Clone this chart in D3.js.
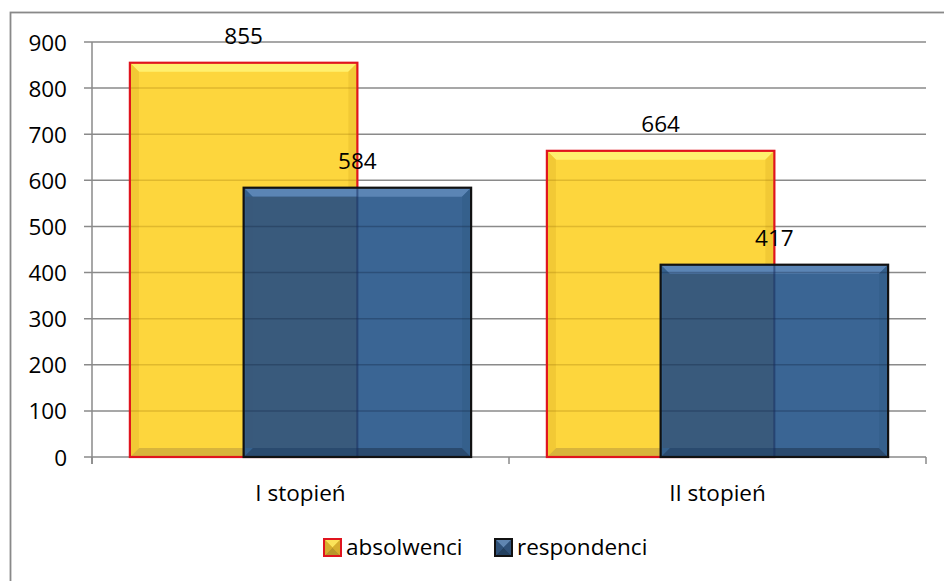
<!DOCTYPE html>
<html><head><meta charset="utf-8">
<script src="https://cdn.jsdelivr.net/npm/d3@7"></script>
<style>body{margin:0;background:#fff}svg{display:block}</style>
</head><body>
<script>
const categories = ["I stopień", "II stopień"];
const seriesNames = ["absolwenci", "respondenci"];
const absolwenci = [855, 664];
const respondenci = [584, 417];
const yTicks = [0, 100, 200, 300, 400, 500, 600, 700, 800, 900];

const W = 944, H = 581;
const svg = d3.select("body").append("svg").attr("width", W).attr("height", H);
const font = "'Open Sans', sans-serif";
const fs = 22.5;

// outer frame
svg.append("rect").attr("x", 10.5).attr("y", 12.5).attr("width", 1000).attr("height", 1000)
  .attr("fill", "#fff").attr("stroke", "#898989").attr("stroke-width", 1.8);

const plotL = 92, plotR = 926, plotT = 42, plotB = 457;
const x = d3.scaleBand().domain(categories).range([plotL, plotR]).padding(0);
const y = d3.scaleLinear().domain([0, 900]).range([plotB, plotT]);

const gapRatio = 0.333, overlap = 0.5;
const barW = x.bandwidth() / (2 - overlap + gapRatio);
const off = gapRatio * barW / 2;

// gridlines
const grid = svg.append("g");
grid.selectAll("line").data(yTicks).join("line")
  .attr("x1", plotL - 8).attr("x2", plotR)
  .attr("y1", d => y(d)).attr("y2", d => y(d))
  .attr("stroke", "#8a8a8a").attr("stroke-width", 1.5);
// y axis line
svg.append("line").attr("x1", plotL).attr("x2", plotL).attr("y1", plotT).attr("y2", plotB + 7)
  .attr("stroke", "#8a8a8a").attr("stroke-width", 1.5);
// x ticks
const xt = [plotL, ...categories.map(c => x(c) + x.bandwidth())];
svg.selectAll(".xt").data(xt).join("line").attr("class", "xt")
  .attr("x1", d => d).attr("x2", d => d).attr("y1", plotB).attr("y2", plotB + 7)
  .attr("stroke", "#8a8a8a").attr("stroke-width", 1.5);

// y tick labels
const yAxis = d3.axisLeft(y).tickValues(yTicks).tickSize(0).tickPadding(0);
const ya = svg.append("g").attr("transform", `translate(${67},0)`).call(yAxis);
ya.select(".domain").remove();
ya.selectAll("text").attr("font-family", font).attr("font-size", fs).attr("fill", "#000").attr("dy", "0.36em");

// x category labels
svg.selectAll(".cat").data(categories).join("text").attr("class", "cat")
  .attr("x", d => x(d) + x.bandwidth() / 2).attr("y", 501)
  .attr("text-anchor", "middle").attr("font-family", font).attr("font-size", fs).text(d => d);

function bevelBar(g, x0, y0, w, h, c) {
  const b = Math.min(9, h / 2);
  g.append("rect").attr("x", x0).attr("y", y0).attr("width", w).attr("height", h).attr("fill", c.main);
  g.append("polygon").attr("points", `${x0},${y0} ${x0 + w},${y0} ${x0 + w - b},${y0 + b} ${x0 + b},${y0 + b}`).attr("fill", c.top);
  g.append("polygon").attr("points", `${x0},${y0 + h} ${x0 + w},${y0 + h} ${x0 + w - b},${y0 + h - b} ${x0 + b},${y0 + h - b}`).attr("fill", c.bot);
  g.append("polygon").attr("points", `${x0},${y0} ${x0 + b},${y0 + b} ${x0 + b},${y0 + h - b} ${x0},${y0 + h}`).attr("fill", c.side);
  g.append("polygon").attr("points", `${x0 + w},${y0} ${x0 + w - b},${y0 + b} ${x0 + w - b},${y0 + h - b} ${x0 + w},${y0 + h}`).attr("fill", c.side);
}
const yellow = { main: "#fdd63d", top: "#fff06e", bot: "#d8b43c", side: "#f2c935", stroke: "#e0141e" };
const blue = { main: "#3a6594", top: "#5b85b5", bot: "#2a4a6e", side: "#35608c", stroke: "#111" };

const bars = svg.append("g");
categories.forEach((c, i) => {
  const yx = x(c) + off, bx = yx + barW * overlap;
  const ya0 = y(absolwenci[i]), yb0 = y(respondenci[i]);
  const gy = bars.append("g");
  bevelBar(gy, yx, ya0, barW, plotB - ya0, yellow);
  gy.append("rect").attr("x", yx).attr("y", ya0).attr("width", barW).attr("height", plotB - ya0)
    .attr("fill", "none").attr("stroke", yellow.stroke).attr("stroke-width", 2.2);
  gy.selectAll("line").data(yTicks.filter(t => y(t) > ya0 + 3 && t > 0)).join("line")
    .attr("x1", yx + 1).attr("x2", yx + barW - 1).attr("y1", t => y(t)).attr("y2", t => y(t))
    .attr("stroke", "rgba(140,100,0,0.25)").attr("stroke-width", 1.5);

  const gb = bars.append("g");
  bevelBar(gb, bx, yb0, barW, plotB - yb0, blue);
  gb.append("rect").attr("x", bx + 2).attr("y", yb0 + 9).attr("width", yx + barW - bx - 2).attr("height", plotB - yb0 - 18)
    .attr("fill", "#3a5878").attr("opacity", 0.85);
  gb.selectAll("line").data(yTicks.filter(t => y(t) > yb0 + 3 && t > 0)).join("line")
    .attr("x1", bx).attr("x2", bx + barW).attr("y1", t => y(t)).attr("y2", t => y(t))
    .attr("stroke", "rgba(20,40,70,0.35)").attr("stroke-width", 1.5);
  gb.append("line").attr("x1", yx + barW).attr("x2", yx + barW).attr("y1", yb0).attr("y2", plotB)
    .attr("stroke", "rgba(20,40,90,0.5)").attr("stroke-width", 2);
  gb.append("rect").attr("x", bx).attr("y", yb0).attr("width", barW).attr("height", plotB - yb0)
    .attr("fill", "none").attr("stroke", blue.stroke).attr("stroke-width", 2.2);

  svg.append("text").attr("x", yx + barW / 2).attr("y", ya0 - 19).attr("text-anchor", "middle")
    .attr("font-family", font).attr("font-size", fs).text(absolwenci[i]);
  svg.append("text").attr("x", bx + barW / 2).attr("y", yb0 - 19).attr("text-anchor", "middle")
    .attr("font-family", font).attr("font-size", fs).text(respondenci[i]);
});

// legend
const leg = [{ n: seriesNames[0], c: yellow, x: 324 }, { n: seriesNames[1], c: blue, x: 495 }];
leg.forEach(l => {
  const g = svg.append("g");
  const s = 17, ly = 539;
  const cc = l.c === yellow ? { main: "#e5bd2e", top: "#fbe35a", bot: "#b8962a", side: "#d6ae2e" } : { main: "#3a5f8a", top: "#5f85b0", bot: "#23405f", side: "#2f5178" };
  bevelBar(g, l.x, ly, s, s, cc);
  g.append("rect").attr("x", l.x).attr("y", ly).attr("width", s).attr("height", s).attr("fill", "none")
    .attr("stroke", l.c.stroke).attr("stroke-width", 2);
  g.append("text").attr("x", l.x + s + 5).attr("y", ly + 16).attr("font-family", font).attr("font-size", fs).text(l.n);
});
</script>
</body></html>
